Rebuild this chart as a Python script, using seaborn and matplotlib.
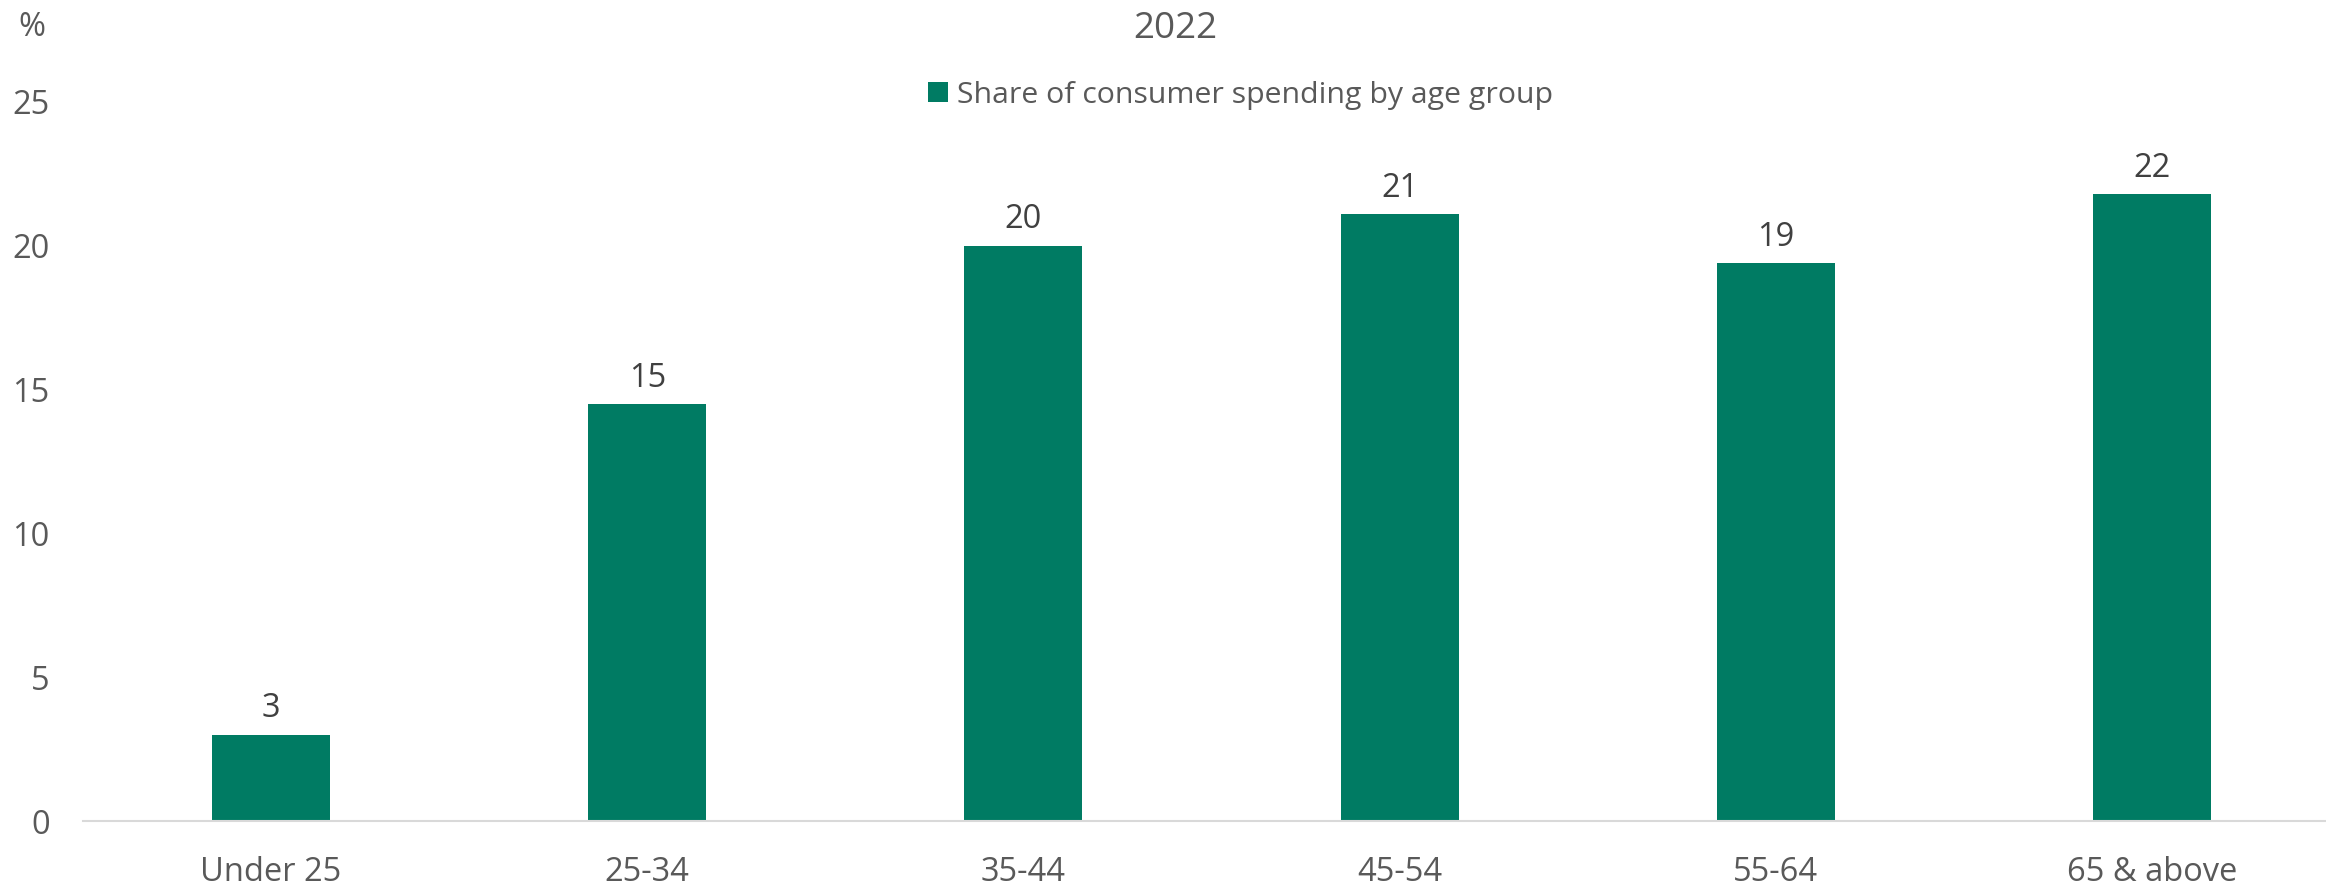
import numpy as np
import matplotlib
matplotlib.use("Agg")
import matplotlib.pyplot as plt
import seaborn as sns

# ---- data ----
categories = ["Under 25", "25-34", "35-44", "45-54", "55-64", "65 & above"]
values = [3.0, 14.5, 20.0, 21.1, 19.4, 21.8]
series_name = "Share of consumer spending by age group"
title = "2022"
unit_label = "%"
y_ticks = [0, 5, 10, 15, 20, 25]

W, H = 2326, 886
sns.set_theme(style="white")
plt.rcParams["font.family"] = ["Open Sans", "DejaVu Sans"]

BAR = "#007B63"
TICK = "#595959"
LBL = "#404040"

fig = plt.figure(figsize=(W / 100, H / 100), dpi=100)
left, right = 83 / W, 2340 / W
bottom, top = 1 - 821 / H, 1 - 101.7 / H
ax = fig.add_axes([left, bottom, right - left, top - bottom])

sns.barplot(x=categories, y=values, color=BAR, width=0.314, ax=ax,
            label=series_name, saturation=1, edgecolor="none")

ax.set_xlim(-0.5, len(categories) - 0.5)
ax.set_ylim(0, 25)
ax.set_yticks(y_ticks)
ax.set_yticklabels([str(t) for t in y_ticks])
ax.set_xlabel("")
ax.set_ylabel("")
for s in ["left", "right", "top"]:
    ax.spines[s].set_visible(False)
ax.spines["bottom"].set_color("#D9D9D9")
ax.spines["bottom"].set_linewidth(1.5)
ax.tick_params(axis="both", length=0, labelsize=23.5, labelcolor=TICK)
ax.tick_params(axis="y", pad=24)
ax.tick_params(axis="x", pad=25)
ax.grid(False)

for p, v in zip(ax.patches, values):
    ax.annotate(f"{np.floor(v + 0.5):.0f}",
                (p.get_x() + p.get_width() / 2, p.get_height()),
                xytext=(0, 18.5), textcoords="offset points",
                ha="center", va="center", fontsize=23.5, color=LBL,
                annotation_clip=False)

leg = fig.legend(loc="center left", bbox_to_anchor=(928 / W, 1 - 95 / H),
                 frameon=False, fontsize=21.8, handlelength=0.66, handleheight=0.66,
                 handletextpad=0.3, borderpad=0, borderaxespad=0)
for t in leg.get_texts():
    t.set_color(TICK)
if ax.legend_:
    ax.legend_.remove()

fig.text(1175 / W, 1 - 29 / H, title, ha="center", va="center", fontsize=26.5, color=TICK)
fig.text(32 / W, 1 - 28 / H, unit_label, ha="center", va="center", fontsize=23.5, color=TICK)

fig.savefig("out.png", dpi=100)
